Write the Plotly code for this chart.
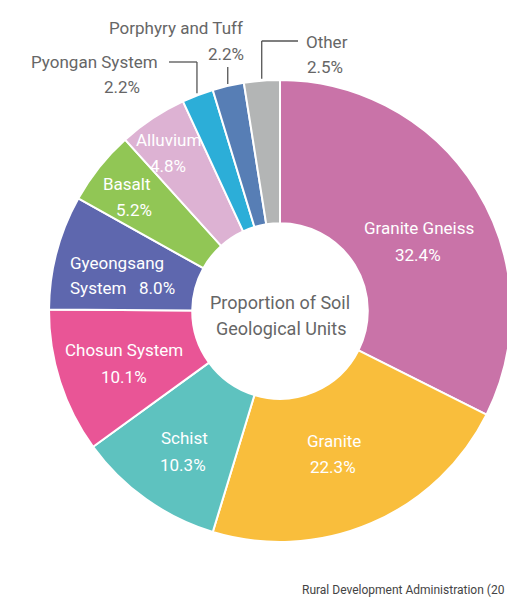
import math
import plotly.graph_objects as go

W, H = 515, 603

units = ["Granite Gneiss", "Granite", "Schist", "Chosun System", "Gyeongsang System",
         "Basalt", "Alluvium", "Pyongan System", "Porphyry and Tuff", "Other"]
shares = [32.4, 22.3, 10.3, 10.1, 8.0, 5.2, 4.8, 2.2, 2.2, 2.5]
colors = ["#C973A8", "#F9BE3C", "#5EC2BF", "#E95596", "#5E67AE",
          "#91C655", "#DDB2D3", "#2CAED8", "#577EB5", "#B3B5B5"]
center_title = ["Proportion of Soil", "Geological Units"]
source_text = "Rural Development Administration (20"

# geometry of the donut (screen pixels)
CX, CY, R = 280, 311, 231
HOLE = 0.38
OFF = 8  # page body margin

def px(x):
    return (x - OFF) / W

def py(y):
    return 1 - (y - OFF) / H

fig = go.Figure(go.Pie(
    values=shares,
    labels=units,
    marker=dict(colors=colors, line=dict(color="white", width=2)),
    hole=HOLE,
    sort=False,
    direction="clockwise",
    rotation=0,
    textinfo="none",
    hoverinfo="label+percent",
    domain=dict(x=[px(CX - R), px(CX + R)], y=[py(CY + R), py(CY - R)]),
    showlegend=False,
))

FONT = "Roboto"
WHITE = "white"
GRAY = "#666666"

def label(text, x, y, color, size=17):
    fig.add_annotation(x=px(x), y=py(y), xref="paper", yref="paper", text=text,
                       showarrow=False, xanchor="center", yanchor="middle",
                       font=dict(family=FONT, size=size, color=color))

def pct(v):
    return f"{v:.1f}%"

# inside labels (name line, percent line)
inside = {
    "Granite Gneiss": (419, 228, 418, 255),
    "Granite": (334, 441, 333, 467),
    "Schist": (184, 438, 183, 465),
    "Chosun System": (124, 350, 124, 377),
    "Basalt": (127, 184, 134, 210),
    "Alluvium": (168, 140, 168, 166),
}
for name, (x1, y1, x2, y2) in inside.items():
    v = shares[units.index(name)]
    label(name, x1, y1, WHITE)
    label(pct(v), x2, y2, WHITE)

g = shares[units.index("Gyeongsang System")]
label("Gyeongsang", 117, 263, WHITE)
label("System&nbsp;&nbsp;&nbsp;" + pct(g), 122, 288, WHITE)

# outside labels
v = shares[units.index("Pyongan System")]
label("Pyongan System", 94, 62, GRAY)
label(pct(v), 122, 87, GRAY)
v = shares[units.index("Porphyry and Tuff")]
label("Porphyry and Tuff", 176, 28, GRAY)
label(pct(v), 226, 54, GRAY)
v = shares[units.index("Other")]
label("Other", 327, 42, GRAY)
label(pct(v), 325, 67, GRAY)

# leader lines computed from slice mid-angles
cum = []
s = 0
for val in shares:
    cum.append(s + val / 2)
    s += val
total = sum(shares)

def edge_point(name, extra=2):
    i = units.index(name)
    a = 2 * math.pi * cum[i] / total
    return CX + (R + extra) * math.sin(a), CY - (R + extra) * math.cos(a)

def seg(x0, y0, x1, y1):
    fig.add_shape(type="line", xref="paper", yref="paper",
                  x0=px(x0), y0=py(y0), x1=px(x1), y1=py(y1),
                  line=dict(color="#555555", width=1.3))

ex, ey = edge_point("Pyongan System")
seg(169, 62, ex, 62)
seg(ex, 62, ex, ey)
ex, ey = edge_point("Porphyry and Tuff")
seg(ex, 67, ex, ey)
ex, ey = edge_point("Other")
seg(298, 41, ex, 41)
seg(ex, 41, ex, ey)

# center title
label(center_title[0], 280, 302, GRAY, 18)
label(center_title[1], 281, 328, GRAY, 18)

# source
fig.add_annotation(x=px(300), y=py(590), xref="paper", yref="paper", text=source_text,
                   showarrow=False, xanchor="left", yanchor="middle",
                   font=dict(family=FONT, size=12, color="#444444"))

fig.update_layout(width=W, height=H, margin=dict(l=0, r=0, t=0, b=0),
                  paper_bgcolor="white", plot_bgcolor="white")

fig.write_html("out.html")
